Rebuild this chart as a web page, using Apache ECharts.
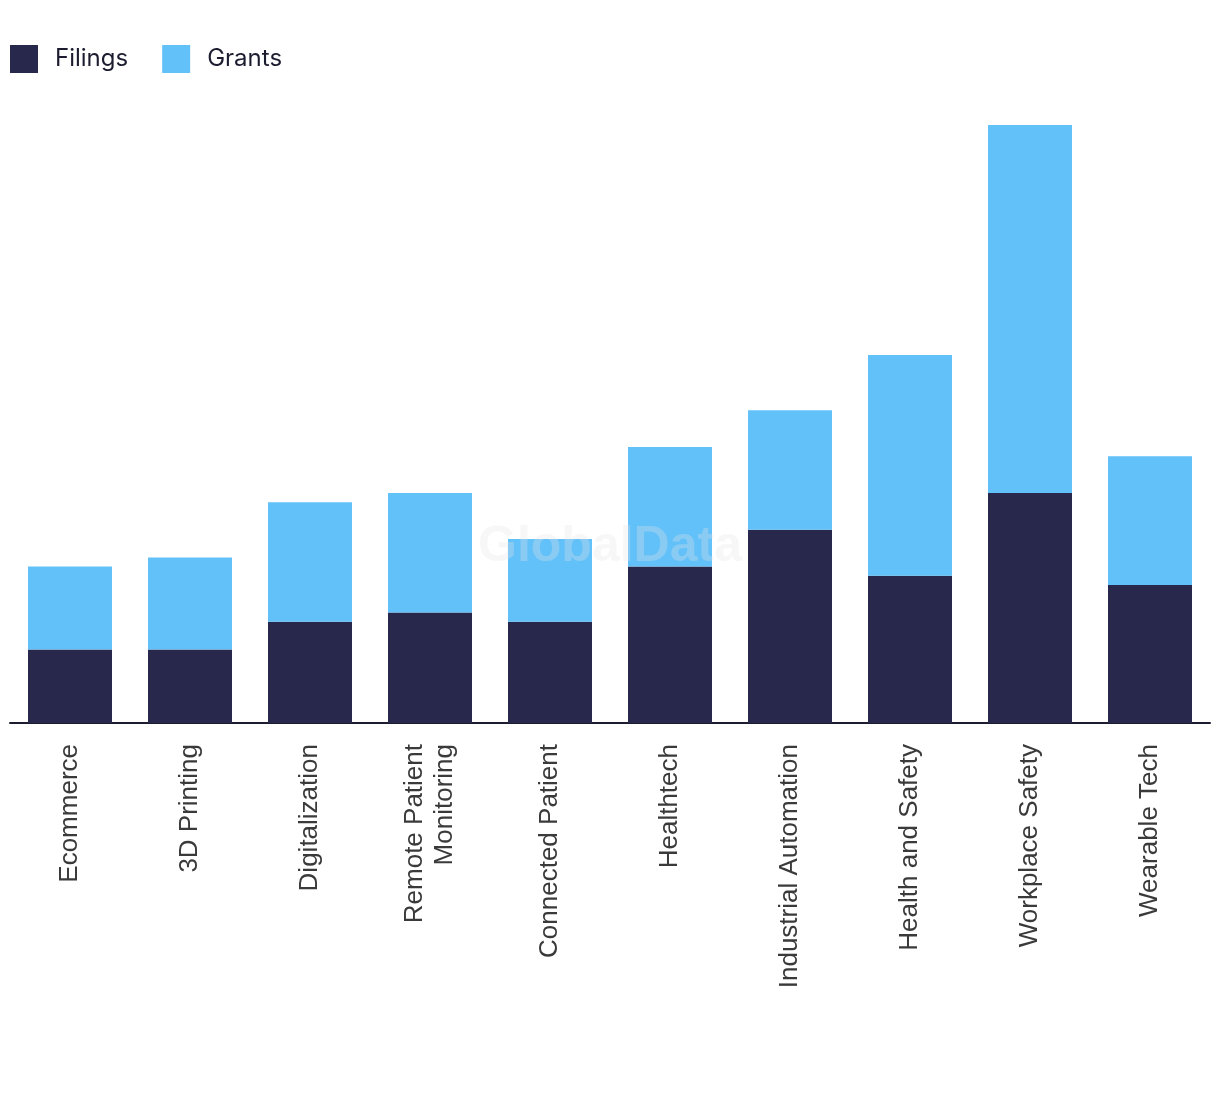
<!DOCTYPE html>
<html>
<head>
<meta charset="utf-8">
<script src="https://cdn.jsdelivr.net/npm/echarts@6/dist/echarts.min.js"></script>
<style>
html,body{margin:0;padding:0;background:#fff;}
#chart{width:1220px;height:1094px;}
</style>
</head>
<body>
<div id="chart"></div>
<script>
const categories = ["Ecommerce", "3D Printing", "Digitalization", "Remote Patient\nMonitoring", "Connected Patient", "Healthtech", "Industrial Automation", "Health and Safety", "Workplace Safety", "Wearable Tech"];
const filings = [8, 8, 11, 12, 11, 17, 21, 16, 25, 15];
const grants = [9, 10, 13, 13, 9, 13, 13, 24, 40, 14];

const chart = echarts.init(document.getElementById('chart'), null, {renderer: 'canvas'});
chart.setOption({
  animation: false,
  backgroundColor: '#ffffff',
  legend: {
    left: 10,
    top: 45,
    padding: 0,
    itemWidth: 28,
    itemHeight: 28,
    itemGap: 34,
    icon: 'rect',
    textStyle: {
      fontFamily: 'Inter, "Noto Sans", sans-serif',
      fontSize: 24,
      color: '#1c1c30',
      padding: [0, 0, 0, 12]
    },
    data: ['Filings', 'Grants']
  },
  grid: {left: 10, right: 10, top: 125, bottom: 371, containLabel: false},
  xAxis: {
    type: 'category',
    data: categories,
    axisTick: {show: false},
    axisLine: {show: true, lineStyle: {color: '#1c1c30', width: 2}},
    axisLabel: {
      rotate: 90,
      interval: 0,
      margin: 21,
      fontFamily: '"Liberation Sans", Arial, sans-serif',
      fontSize: 26,
      lineHeight: 30,
      color: '#3a3a3a'
    }
  },
  yAxis: {
    type: 'value',
    min: 0,
    max: 65,
    show: false,
    splitLine: {show: false}
  },
  graphic: [{
    type: 'text',
    left: 'center',
    top: 522,
    z: 100,
    style: {
      text: 'GlobalData',
      fontFamily: '"Liberation Sans", Arial, sans-serif',
      fontWeight: 'bold',
      fontSize: 50,
      fill: 'rgba(230,230,230,0.3)'
    }
  }],
  series: [
    {
      name: 'Filings',
      type: 'bar',
      stack: 'total',
      barWidth: 84,
      itemStyle: {color: '#27284b'},
      data: filings
    },
    {
      name: 'Grants',
      type: 'bar',
      stack: 'total',
      barWidth: 84,
      itemStyle: {color: '#62c1f9'},
      data: grants
    }
  ]
});
</script>
</body>
</html>
